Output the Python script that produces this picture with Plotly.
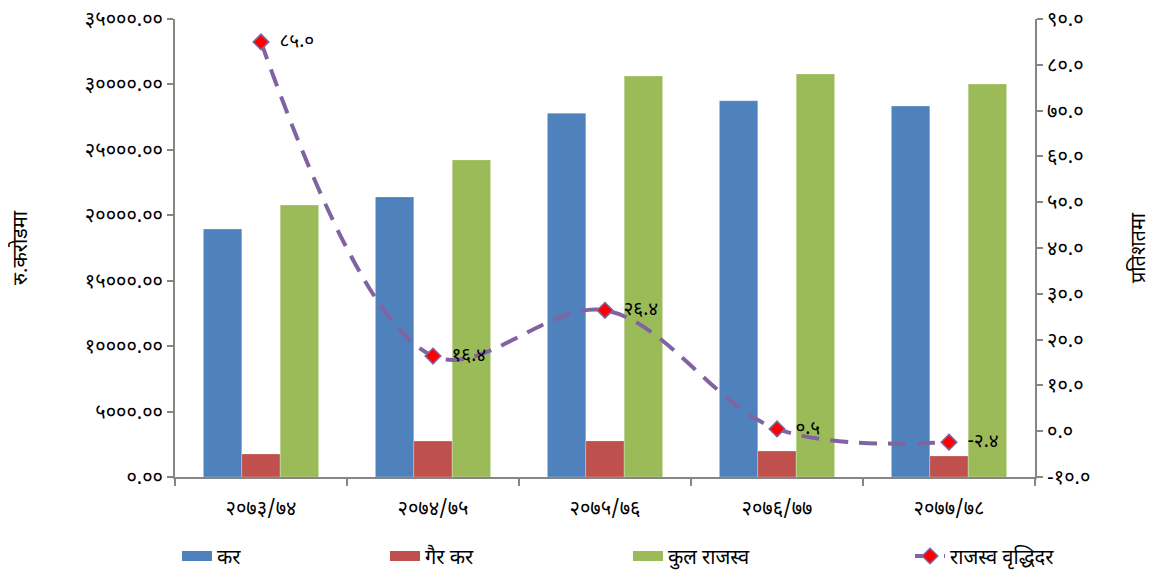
import plotly.graph_objects as go

categories = ["२०७३/७४", "२०७४/७५", "२०७५/७६", "२०७६/७७", "२०७७/७८"]
kar = [18950, 21400, 27800, 28750, 28350]
gair_kar = [1760, 2750, 2760, 1990, 1610]
kul_rajaswa = [20780, 24230, 30640, 30800, 30030]
briddhi_dar = [85.0, 16.4, 26.4, 0.5, -2.4]

left_ticks = [0, 5000, 10000, 15000, 20000, 25000, 30000, 35000]
right_ticks = [-10, 0, 10, 20, 30, 40, 50, 60, 70, 80, 90]

DEV = str.maketrans("0123456789", "०१२३४५६७८९")


def dev(s):
    return s.translate(DEV)


FONT = "Noto Sans Devanagari, Lohit Devanagari, Noto Sans, sans-serif"
BLUE, RED, GREEN, PURPLE = "#4F81BD", "#C0504D", "#9BBB59", "#8064A2"
AXIS = "#868686"

fig = go.Figure()
bar_line = dict(color="rgba(255,255,255,0.5)", width=0.5)
fig.add_trace(go.Bar(x=categories, y=kar, name="कर", marker_color=BLUE,
                     marker_line=bar_line, showlegend=False))
fig.add_trace(go.Bar(x=categories, y=gair_kar, name="गैर कर", marker_color=RED,
                     marker_line=bar_line, showlegend=False))
fig.add_trace(go.Bar(x=categories, y=kul_rajaswa, name="कुल राजस्व", marker_color=GREEN,
                     marker_line=bar_line, showlegend=False))

# legend-only entries drawn as thick bands (wide rectangle swatches)
for nm, col, lg in [("कर", BLUE, "legend"), ("गैर कर", RED, "legend2"),
                    ("कुल राजस्व", GREEN, "legend3")]:
    fig.add_trace(go.Scatter(x=[None], y=[None], name=nm, mode="lines",
                             line=dict(color=col, width=12), legend=lg,
                             hoverinfo="skip"))

fig.add_trace(go.Scatter(
    x=categories, y=briddhi_dar, name="राजस्व वृद्धिदर", yaxis="y2", legend="legend4",
    mode="lines+markers+text",
    line=dict(color=PURPLE, width=4, dash="18px,11px", shape="spline", smoothing=1),
    marker=dict(symbol="diamond", size=12, color="#FF0000", line=dict(color=PURPLE, width=1.5)),
    text=["  " + dev(f"{v:.1f}") for v in briddhi_dar],
    textposition="middle right",
    textfont=dict(size=19, color="#000000", family=FONT),
))

leg_common = dict(orientation="h", y=-0.1725, yanchor="middle", xanchor="left",
                  font=dict(size=20, family=FONT, color="#000000"),
                  bgcolor="rgba(0,0,0,0)")
fig.update_layout(
    width=1147, height=569,
    margin=dict(l=167, r=120, t=11, b=100, autoexpand=False),
    paper_bgcolor="white", plot_bgcolor="white",
    barmode="group", bargap=0.33, bargroupgap=0,
    font=dict(family=FONT, size=19, color="#000000"),
    showlegend=True,
    legend=dict(x=0.0023, **leg_common),
    legend2=dict(x=0.2442, **leg_common),
    legend3=dict(x=0.5267, **leg_common),
    legend4=dict(x=0.8547, **leg_common),
    xaxis=dict(showline=True, linecolor=AXIS, linewidth=2, ticks="outside",
               tickson="boundaries", ticklen=7, tickcolor=AXIS, tickwidth=2,
               tickfont=dict(size=20), showgrid=False, ticklabelstandoff=12),
    yaxis=dict(range=[0, 35000], tickvals=left_ticks,
               ticktext=[dev(f"{v:.2f}") for v in left_ticks],
               showline=True, linecolor=AXIS, linewidth=2, ticks="outside",
               ticklen=6, tickcolor=AXIS, tickwidth=2, showgrid=False,
               title=dict(text="रु.करोडमा", font=dict(size=20), standoff=52),
               tickfont=dict(size=20), zeroline=False),
    yaxis2=dict(range=[-10, 90], tickvals=right_ticks,
                ticktext=[dev(f"{v:.1f}") for v in right_ticks],
                overlaying="y", side="right",
                showline=True, linecolor=AXIS, linewidth=2, ticks="outside",
                ticklen=6, tickcolor=AXIS, tickwidth=2, showgrid=False,
                title=dict(text="प्रतिशतमा", font=dict(size=20), standoff=42),
                tickfont=dict(size=20), zeroline=False),
)

fig.write_html("out.html")
